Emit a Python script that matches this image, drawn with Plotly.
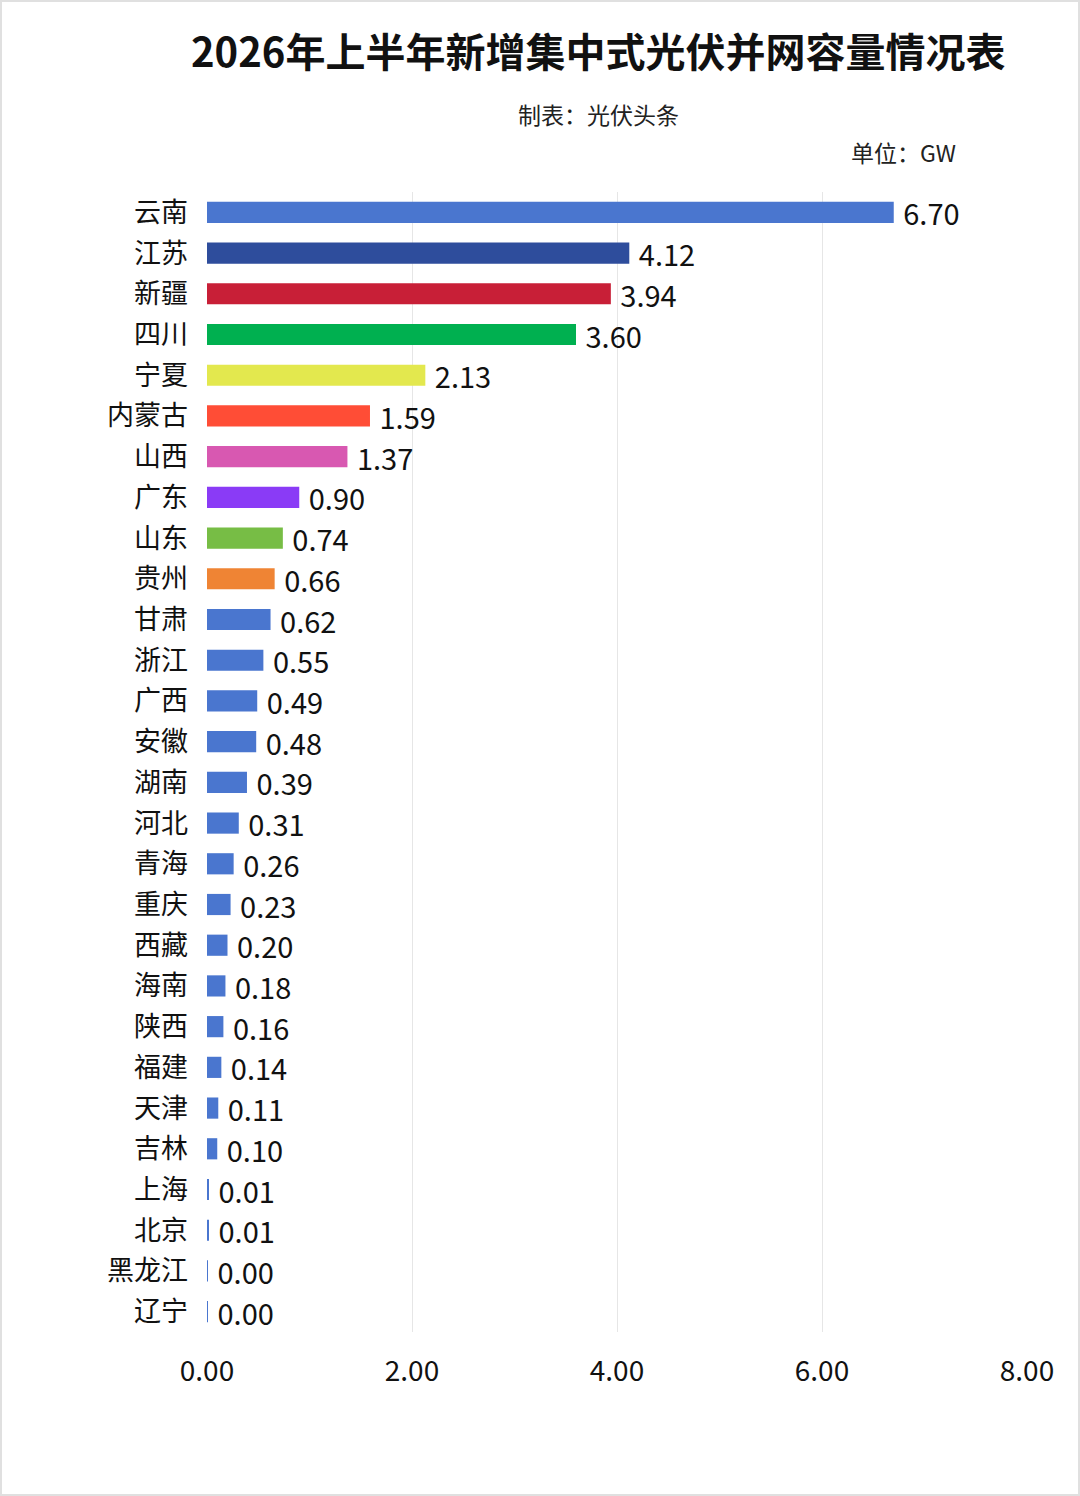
import plotly.graph_objects as go

provinces = ["云南", "江苏", "新疆", "四川", "宁夏", "内蒙古", "山西", "广东", "山东", "贵州",
             "甘肃", "浙江", "广西", "安徽", "湖南", "河北", "青海", "重庆", "西藏", "海南",
             "陕西", "福建", "天津", "吉林", "上海", "北京", "黑龙江", "辽宁"]
capacity = [6.70, 4.12, 3.94, 3.60, 2.13, 1.59, 1.37, 0.90, 0.74, 0.66,
            0.62, 0.55, 0.49, 0.48, 0.39, 0.31, 0.26, 0.23, 0.20, 0.18,
            0.16, 0.14, 0.11, 0.10, 0.01, 0.01, 0.004, 0.004]
x_ticks = [0, 2, 4, 6, 8]

blue = "#4A76CF"
special = ["#4A76CF", "#2E4D9C", "#C81F37", "#00B050", "#E3E84E",
           "#FF4D36", "#D858B1", "#8A3BF6", "#77BD45", "#EF8434"]
bar_colors = special + [blue] * (len(provinces) - len(special))

font = "Noto Sans CJK SC"

W, H = 1080, 1496
L, R, T, B = 207, 53, 192, 164
plot_w = W - L - R
plot_h = H - T - B


def px_x(x):
    return (x - L) / plot_w


def px_y(y):
    return (H - B - y) / plot_h


fig = go.Figure()
fig.add_trace(go.Bar(
    x=capacity,
    y=provinces,
    orientation="h",
    marker=dict(color=bar_colors, line=dict(width=0)),
    text=[f" {v:.2f}" for v in capacity],
    textposition="outside",
    constraintext="none",
    cliponaxis=False,
    textfont=dict(family=font, size=29, color="#111111"),
    hoverinfo="skip",
))

fig.update_layout(
    width=W,
    height=H,
    paper_bgcolor="white",
    plot_bgcolor="white",
    margin=dict(l=L, r=R, t=T, b=B),
    bargap=0.48,
    showlegend=False,
    font=dict(family=font, color="#111111"),
    annotations=[
        dict(text="<b>2026年上半年新增集中式光伏并网容量情况表</b>",
             x=px_x(598), y=px_y(50), xref="paper", yref="paper",
             xanchor="center", yanchor="middle", showarrow=False,
             font=dict(size=40, family=font, color="#111111")),
        dict(text="制表：光伏头条", x=px_x(598), y=px_y(114),
             xref="paper", yref="paper", xanchor="center", yanchor="middle",
             showarrow=False, font=dict(size=23, family=font, color="#222222")),
        dict(text="单位：GW", x=px_x(958), y=px_y(152),
             xref="paper", yref="paper", xanchor="right", yanchor="middle",
             showarrow=False, font=dict(size=23, family=font, color="#222222")),
    ],
)

fig.update_xaxes(
    range=[0, 8],
    tickvals=x_ticks,
    ticktext=[f"{t:.2f}" for t in x_ticks],
    showgrid=True,
    gridcolor="#E6E6E6",
    gridwidth=1,
    zeroline=False,
    showline=False,
    ticks="",
    ticklabelstandoff=20,
    tickfont=dict(size=28, family=font, color="#111111"),
)
fig.update_yaxes(
    autorange="reversed",
    showgrid=False,
    showline=False,
    ticks="",
    ticklabelstandoff=18,
    tickfont=dict(size=27, family=font, color="#111111"),
)

# thin light frame round the whole picture
fig.add_shape(type="rect", xref="paper", yref="paper",
              x0=px_x(1), x1=px_x(W - 1), y0=px_y(H - 1), y1=px_y(1),
              line=dict(color="#E0E0E0", width=2))

fig.write_html("out.html", config={"displayModeBar": False},
               post_script="document.body.style.margin='0';")
